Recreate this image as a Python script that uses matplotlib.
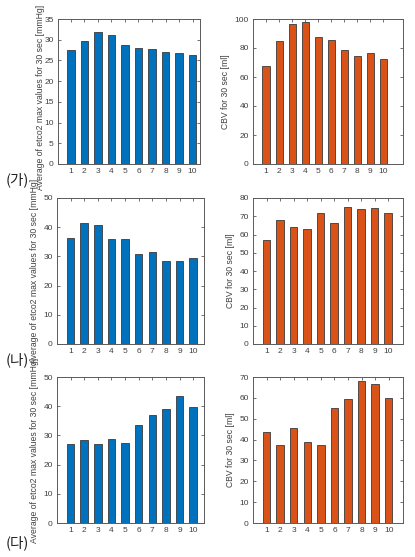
import matplotlib
matplotlib.use("Agg")
import matplotlib.pyplot as plt
import numpy as np

plt.rcParams['font.family'] = ['Liberation Sans', 'DejaVu Sans']

x = list(range(1, 11))
etco2_ga = [27.4, 29.7, 31.9, 31.1, 28.8, 28.1, 27.7, 27.1, 26.8, 26.2]
cbv_ga = [67.7, 85.1, 96.8, 97.7, 87.6, 85.6, 78.7, 74.8, 76.8, 72.5]
etco2_na = [36.2, 41.3, 40.6, 35.8, 35.8, 30.8, 31.4, 28.4, 28.3, 29.6]
cbv_na = [57.2, 67.8, 64.1, 63.0, 71.6, 66.3, 74.9, 73.8, 74.5, 71.6]
etco2_da = [27.2, 28.5, 26.9, 28.8, 27.5, 33.4, 37.0, 39.0, 43.5, 39.8]
cbv_da = [43.6, 37.4, 45.5, 39.0, 37.2, 54.9, 59.3, 68.2, 66.5, 59.8]

row_labels = ['(가)', '(나)', '(다)']
left_ylabel = 'Average of etco2 max values for 30 sec [mmHg]'
right_ylabel = 'CBV for 30 sec [ml]'

W, H = 415, 557
fig = plt.figure(figsize=(W / 100, H / 100), dpi=100)

blue = '#0072BD'
orange = '#D95319'
frame = '#5a5a5a'

def px_axes(x0, x1, y0, y1):
    return fig.add_axes([x0 / W, 1 - y1 / H, (x1 - x0) / W, (y1 - y0) / H])

def style(ax, vals, color, ylim, yticks, xlim, ylabel, labelpad):
    ax.bar(x, vals, width=0.55, color=color, edgecolor='#3a3a3a', linewidth=0.6, zorder=2)
    ax.set_xlim(*xlim)
    ax.set_ylim(*ylim)
    ax.set_xticks(x)
    ax.set_yticks(yticks)
    ax.tick_params(direction='in', length=2.5, width=0.6, labelsize=6,
                   colors=frame, top=True, right=True, pad=3)
    for t in ax.get_xticklabels() + ax.get_yticklabels():
        t.set_color('#404040')
    for s in ax.spines.values():
        s.set_color(frame)
        s.set_linewidth(0.7)
    ax.set_ylabel(ylabel, fontsize=6.2, color='#404040', labelpad=labelpad)

rows = [
    (etco2_ga, cbv_ga, 19, 164, (0, 35), np.arange(0, 36, 5), (0, 100), np.arange(0, 101, 20),
     (58, 200), (0.05, 10.55), (0, 11.5)),
    (etco2_na, cbv_na, 198, 344, (0, 50), np.arange(0, 51, 10), (0, 80), np.arange(0, 81, 10),
     (57, 204), (0, 10.8), (0, 11.1)),
    (etco2_da, cbv_da, 377, 523, (0, 50), np.arange(0, 51, 10), (0, 70), np.arange(0, 71, 10),
     (57, 204), (0, 10.8), (0, 11.05)),
]

label_y = [180, 360, 543]

for i, (lv, rv, y0, y1, lyl, lyt, ryl, ryt, lx, lxl, rxl) in enumerate(rows):
    axl = px_axes(lx[0], lx[1], y0, y1)
    style(axl, lv, blue, lyl, lyt, lxl, left_ylabel, 3)
    if i == 0:
        axl.yaxis.set_label_coords(-0.095, 0.46)
    axr = px_axes(253, 403, y0, y1)
    style(axr, rv, orange, ryl, ryt, rxl, right_ylabel, 3)
    fig.text(6 / W, 1 - label_y[i] / H, row_labels[i], fontsize=10.5,
             family=['Noto Sans CJK KR', 'DejaVu Sans'], va='center', ha='left', color='#222222')

fig.savefig('out.png', dpi=100)
